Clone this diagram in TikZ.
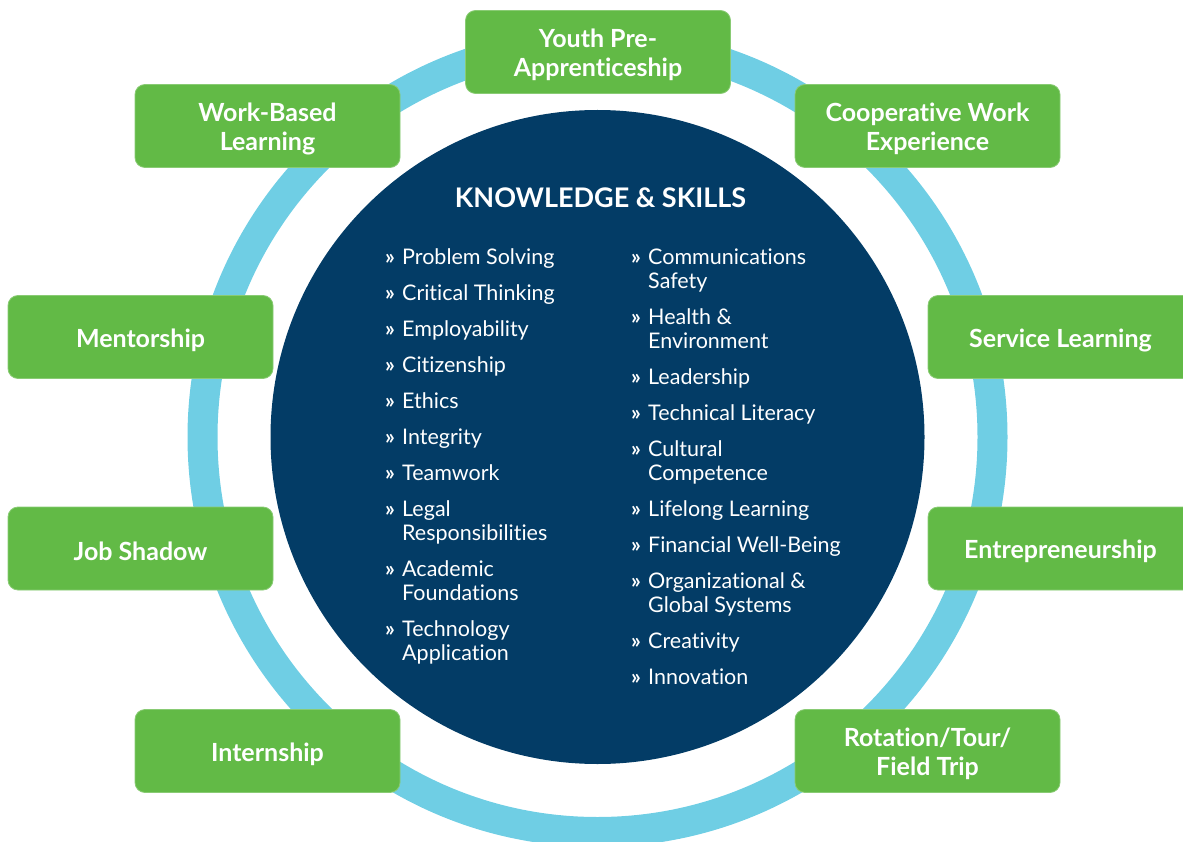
\documentclass[tikz,border=0pt]{standalone}
\usepackage{fontspec}
\setmainfont{Lato}[Ligatures={NoCommon}]
\usetikzlibrary{positioning}
\definecolor{ring}{HTML}{6FCEE4}
\definecolor{core}{HTML}{033C66}
\definecolor{leaf}{HTML}{62BA46}
\tikzset{path text/.style={
    text=white,align=center,inner sep=0pt,yshift=-3pt,
    font=\fontsize{25}{29}\selectfont\bfseries}}
\tikzset{path box/.style={
    draw=leaf!75!white,line width=.8pt,fill=leaf,rounded corners=10pt,
    minimum width=265pt,minimum height=83pt,inner sep=0pt,
    label={[path text]center:{#1}}}}
\tikzset{skill list/.style={
    anchor=north west,inner sep=0pt,text=white,
    font=\fontsize{21.5}{24}\selectfont}}
\newcommand{\ksbox}{\begin{tabular}{@{}p{17pt}@{}l@{}}}
\newcommand{\ksb}{\textbf{»}}

\begin{document}
\begin{tikzpicture}[x=1pt,y=-1pt]
  \clip (0,0) rectangle (1183,842);
  \path[use as bounding box] (0,0) rectangle (1183,842);
  % outer ring and core disc
  \draw[ring,line width=30pt] (597.5,437) circle (395pt);
  \fill[core] (597.5,437) circle (327pt);
  \node[text=white,font=\fontsize{27}{30}\selectfont\bfseries,anchor=base]
    (title) at (600.5,208) {KNOWLEDGE \& SKILLS};
  \node[skill list] (left list) at (385,247) {\ksbox
    \ksb & Problem Solving \\[12pt]
    \ksb & Critical Thinking \\[12pt]
    \ksb & Employability \\[12pt]
    \ksb & Citizenship \\[12pt]
    \ksb & Ethics \\[12pt]
    \ksb & Integrity \\[12pt]
    \ksb & Teamwork \\[12pt]
    \ksb & Legal \\ & Responsibilities \\[12pt]
    \ksb & Academic \\ & Foundations \\[12pt]
    \ksb & Technology \\ & Application
    \end{tabular}};
  \node[skill list] (right list) at (631,247) {\ksbox
    \ksb & Communications \\ & Safety \\[12pt]
    \ksb & Health \& \\ & Environment \\[12pt]
    \ksb & Leadership \\[12pt]
    \ksb & Technical Literacy \\[12pt]
    \ksb & Cultural \\ & Competence \\[12pt]
    \ksb & Lifelong Learning \\[12pt]
    \ksb & Financial Well-Being \\[12pt]
    \ksb & Organizational \& \\ & Global Systems \\[12pt]
    \ksb & Creativity \\[12pt]
    \ksb & Innovation
    \end{tabular}};
  % pathways round the ring
  \node[path box={Youth Pre-\\Apprenticeship}] (youth) at (598,52) {};
  \node[path box={Work-Based\\Learning}] (wbl) at (267.5,126) {};
  \node[path box={Cooperative Work\\Experience}] (coop) at (927.5,126) {};
  \node[path box=Mentorship] (mentor) at (140.5,337) {};
  \node[path box=Service Learning] (service) at (1060.5,337) {};
  \node[path box=Job Shadow] (shadow) at (140.5,548.5) {};
  \node[path box=Entrepreneurship] (entre) at (1060.5,548.5) {};
  \node[path box=Internship] (intern) at (267.5,751) {};
  \node[path box={Rotation/Tour/\\Field Trip}] (rotate) at (927.5,751) {};
\end{tikzpicture}
\end{document}
